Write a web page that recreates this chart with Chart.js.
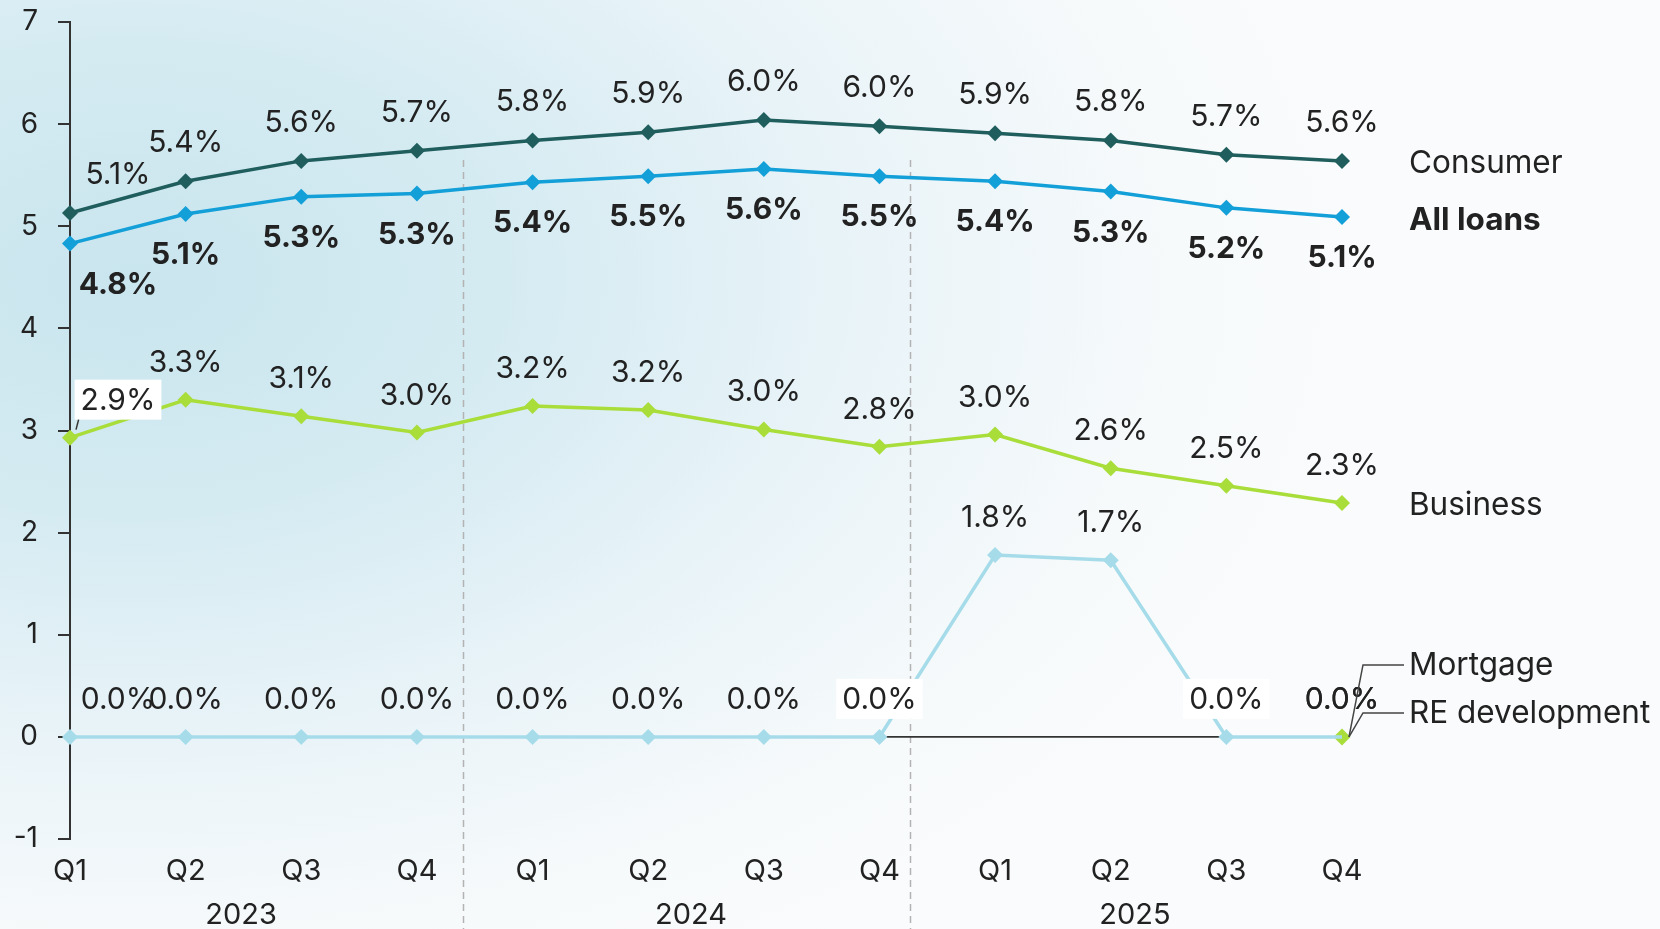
<!DOCTYPE html>
<html lang="en">
<head>
<meta charset="UTF-8">
<title>Net charge-offs by loan type</title>
<style>
    html, body {
        margin: 0;
        padding: 0;
    }
    body {
        width: 1660px;
        height: 929px;
        overflow: hidden;
        font-family: 'Inter', sans-serif;
        background: radial-gradient(ellipse 75% 85% at 8% 30%, #c9e5ee 0%, #d5ebf2 30%, #eaf4f8 60%, #f7fafb 85%, #f9fbfc 100%);
    }
    canvas {
        display: block;
    }
</style>
<script src="https://cdn.jsdelivr.net/npm/chart.js@4.4.1/dist/chart.umd.min.js"></script>
</head>
<body>
<canvas id="chart" width="1660" height="929"></canvas>
<script>
    // data
    const quarters = ['Q1', 'Q2', 'Q3', 'Q4', 'Q1', 'Q2', 'Q3', 'Q4', 'Q1', 'Q2', 'Q3', 'Q4'];
    const years = ['2023', '2024', '2025'];
    const consumer = [5.13, 5.44, 5.64, 5.74, 5.84, 5.92, 6.04, 5.98, 5.91, 5.84, 5.70, 5.64];
    const allLoans = [4.83, 5.12, 5.29, 5.32, 5.43, 5.49, 5.56, 5.49, 5.44, 5.34, 5.18, 5.09];
    const business = [2.93, 3.30, 3.14, 2.98, 3.24, 3.20, 3.01, 2.84, 2.96, 2.63, 2.46, 2.29];
    const mortgage = [0, 0, 0, 0, 0, 0, 0, 0, 1.78, 1.73, 0, 0];
    const reDevelopment = [0, 0, 0, 0, 0, 0, 0, 0, 0, 0, 0, 0];

    // where the year groups sit on the category axis (in category units)
    const yearBreaks = [3.4, 7.26];
    const yearCenters = [1.48, 5.37, 9.21];

    const TEXT = '#222222';
    const FONT = 'Inter';
    const LABEL_SIZE = 30;
    const NAME_SIZE = 31.5;

    const fmt = v => v.toFixed(1) + '%';

    // value labels next to each point
    const valueLabels = {
        id: 'valueLabels',
        afterDatasetsDraw(chart) {
            const ctx = chart.ctx;
            chart.data.datasets.forEach((ds, i) => {
                const lab = ds.valueLabels;
                if (!lab) return;
                const meta = chart.getDatasetMeta(i);
                meta.data.forEach((pt, j) => {
                    if (lab.only && !lab.only.includes(j)) return;
                    const text = fmt(ds.data[j]);
                    const x = pt.x + (j === 0 ? 48 : 0);
                    const y = pt.y + lab.dy;
                    ctx.save();
                    ctx.font = (lab.bold ? 'bold ' : '') + LABEL_SIZE + 'px ' + FONT;
                    ctx.textAlign = 'center';
                    ctx.textBaseline = 'middle';
                    if (lab.boxed && lab.boxed.includes(j)) {
                        const w = ctx.measureText(text).width + 12;
                        ctx.fillStyle = '#ffffff';
                        ctx.fillRect(x - w / 2, y - 20, w, 40);
                        if (j === 0) {
                            ctx.strokeStyle = '#333';
                            ctx.lineWidth = 1.5;
                            ctx.beginPath();
                            ctx.moveTo(pt.x + 6, pt.y - 8);
                            ctx.lineTo(x - w / 2 + 4, y + 20);
                            ctx.stroke();
                        }
                    }
                    ctx.fillStyle = TEXT;
                    ctx.fillText(text, x, y + 1);
                    ctx.restore();
                });
            });
        }
    };

    // series names on the right, with leader lines where needed
    const seriesNames = {
        id: 'seriesNames',
        afterDatasetsDraw(chart) {
            const ctx = chart.ctx;
            chart.data.datasets.forEach((ds, i) => {
                const meta = chart.getDatasetMeta(i);
                const last = meta.data[meta.data.length - 1];
                const n = ds.nameTag;
                const ty = last.y + n.dy;
                ctx.save();
                if (n.leader) {
                    ctx.strokeStyle = '#444';
                    ctx.lineWidth = 1.5;
                    ctx.beginPath();
                    ctx.moveTo(last.x + 7, last.y);
                    ctx.lineTo(last.x + 21, ty);
                    ctx.lineTo(last.x + 62, ty);
                    ctx.stroke();
                }
                ctx.font = (n.bold ? 'bold ' : '') + NAME_SIZE + 'px ' + FONT;
                ctx.fillStyle = TEXT;
                ctx.textAlign = 'left';
                ctx.textBaseline = 'middle';
                ctx.fillText(ds.label, last.x + 67, ty + 1);
                ctx.restore();
            });
        }
    };

    // dashed year separators and year labels
    const yearAxis = {
        id: 'yearAxis',
        beforeDatasetsDraw(chart) {
            const ctx = chart.ctx;
            const x = chart.scales.x;
            ctx.save();
            ctx.strokeStyle = '#b3b3b3';
            ctx.lineWidth = 1.5;
            ctx.setLineDash([7, 5]);
            yearBreaks.forEach(v => {
                const px = Math.round(x.getPixelForValue(v)) + 0.5;
                ctx.beginPath();
                ctx.moveTo(px, 160);
                ctx.lineTo(px, chart.height);
                ctx.stroke();
            });
            ctx.restore();
        },
        afterDraw(chart) {
            const ctx = chart.ctx;
            const x = chart.scales.x;
            ctx.save();
            ctx.font = '29px ' + FONT;
            ctx.fillStyle = TEXT;
            ctx.textAlign = 'center';
            ctx.textBaseline = 'middle';
            years.forEach((yr, k) => {
                ctx.fillText(yr, x.getPixelForValue(yearCenters[k]), 915);
            });
            ctx.restore();
        }
    };

    const diamond = {
        pointStyle: 'rectRot',
        pointRadius: 8,
        pointBorderWidth: 0,
        borderWidth: 3.5,
        clip: false,
        tension: 0
    };

    const ctx = document.getElementById('chart').getContext('2d');
    new Chart(ctx, {
        type: 'line',
        data: {
            labels: quarters,
            datasets: [
                Object.assign({}, diamond, {
                    label: 'Consumer', data: consumer,
                    borderColor: '#1f5e5d', backgroundColor: '#1f5e5d',
                    valueLabels: { dy: -39 },
                    nameTag: { dy: 2 }
                }),
                Object.assign({}, diamond, {
                    label: 'All loans', data: allLoans,
                    borderColor: '#139fd8', backgroundColor: '#139fd8',
                    valueLabels: { dy: 40, bold: true },
                    nameTag: { dy: 2, bold: true }
                }),
                Object.assign({}, diamond, {
                    label: 'Business', data: business,
                    borderColor: '#a8dd3a', backgroundColor: '#a8dd3a',
                    valueLabels: { dy: -38, boxed: [0] },
                    nameTag: { dy: 2 }
                }),
                Object.assign({}, diamond, {
                    label: 'Mortgage', data: mortgage,
                    borderColor: '#a6dcea', backgroundColor: '#a6dcea',
                    pointRadius: [8, 8, 8, 8, 8, 8, 8, 8, 8, 8, 8, 0],
                    valueLabels: { dy: -38, boxed: [7, 10] },
                    nameTag: { dy: -72, leader: true }
                }),
                Object.assign({}, diamond, {
                    label: 'RE development', data: reDevelopment,
                    borderColor: '#333333', backgroundColor: '#a8dd3a',
                    borderWidth: 1.8,
                    pointRadius: [0, 0, 0, 0, 0, 0, 0, 0, 0, 0, 0, 8.5],
                    valueLabels: { dy: -38, only: [11] },
                    nameTag: { dy: -24, leader: true }
                })
            ]
        },
        options: {
            responsive: false,
            devicePixelRatio: 1,
            animation: false,
            events: [],
            layout: {
                padding: { top: 22, right: 318, left: 0, bottom: 0 }
            },
            plugins: {
                legend: { display: false },
                tooltip: { enabled: false }
            },
            scales: {
                x: {
                    type: 'category',
                    offset: false,
                    grid: { display: false, drawTicks: false },
                    border: { display: false },
                    ticks: {
                        color: TEXT,
                        font: { family: FONT, size: 29 },
                        padding: 15,
                        autoSkip: false,
                        maxRotation: 0
                    },
                    afterFit: s => {
                        s.height = 90;
                        s.paddingLeft = 0;
                        s.paddingRight = 0;
                    }
                },
                y: {
                    min: -1,
                    max: 7,
                    ticks: {
                        stepSize: 1,
                        color: TEXT,
                        font: { family: FONT, size: 28 },
                        padding: 20
                    },
                    grid: {
                        drawOnChartArea: false,
                        drawTicks: true,
                        tickLength: 12,
                        color: '#333333',
                        lineWidth: 2
                    },
                    border: { display: true, color: '#333333', width: 2 },
                    afterFit: s => {
                        s.width = 70;
                        s.paddingTop = 0;
                        s.paddingBottom = 0;
                    }
                }
            }
        },
        plugins: [yearAxis, valueLabels, seriesNames]
    });
</script>
</body>
</html>
